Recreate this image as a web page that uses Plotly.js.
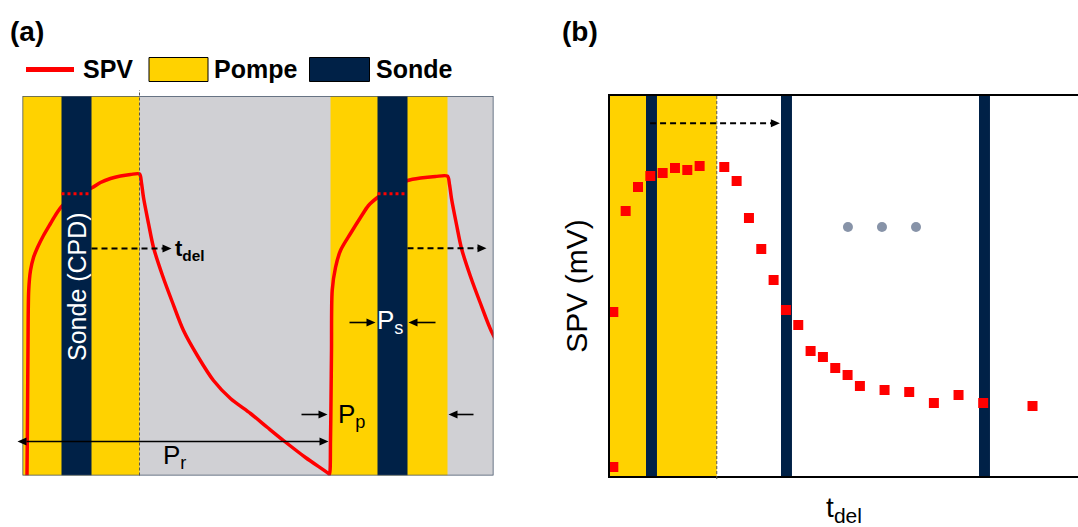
<!DOCTYPE html>
<html>
<head>
<meta charset="utf-8">
<script src="https://cdn.plot.ly/plotly-3.0.1.min.js"></script>
<style>html,body{margin:0;padding:0;background:#fff;}#chart{width:1078px;height:527px;}</style>
</head>
<body>
<div id="chart"></div>
<script>
// ---------- DATA ----------
// Panel (a): time axis (arbitrary units), SPV transient (arbitrary units)
const pumpA = [[0, 117], [308, 425]];          // pump-on intervals
const probeA = [[39, 69], [355, 385]];         // probe (CPD) intervals
const probeLevelA = 281.7;                     // SPV level sampled by probe
const spvTimeA = [4.5,5,5.5,6.2,8,11,15,21,28,34,40,48,58,70,78,88,98,108,117,
  119,121,126,131,140,150,161,176,191,208,228,245,261,283,306,
  307,308,308.5,309,309.7,313,318,328,338,346,355,364,374,385,398,413,425,
  427,429,434,439,448,458,469,484];
const spvValA = [0,60,130,185,205,218,228,240,252,262,270,276,282,288,293,297,299.5,301,301.5,
  292.5,278,252,228,200,173,145,118,95,77,62,48,35,18,2,
  1,35,75,125,185,208,225,242,258,270,278,284,290,295,297.5,299,299.3,
  291,277,251,227,199,172,144,117];

// Panel (b): delay time index vs measured SPV
const pumpB = [[-0.27, 8.39]];
const probeB = [[2.65, 3.54], [13.60, 14.49], [29.66, 30.55]];
const tdel = [0,0,1,2,3,4,5,6,7,9,10,11,12,13,14,15,16,17,18,19,20,22,24,26,28,30,34];
const spvB = [164,9,265,289,300,303,308,306,310,309,295,258,227,196,166,151,125,119,108,101,90,86,84,73,81,73,70];
const dotsT = [19.03, 21.79, 24.55];
const dotsV = [249, 249, 249];

// ---------- STYLE / GEOMETRY ----------
const W = 1078, H = 527;
const px = x => x / W, py = y => 1 - y / H;
const FONT = 'Liberation Sans, Arial, sans-serif';
const YEL = '#FFD200', NAVY = '#002147', RED = '#FF0000', GREY = '#D0D0D4';

const A_X = [0, 471], A_Y = [0, 379.5];
const B_X = [-0.27, 37.69], B_Y = [0, 380];
const A_DOM = {l:22.5, r:493.5, t:96, b:475.5};
const B_DOM = {l:610, r:1078, t:96, b:476};
// map data -> pixel (same linear mapping as the axes)
const aXp = x => A_DOM.l + (x - A_X[0]) * (A_DOM.r - A_DOM.l) / (A_X[1] - A_X[0]);
const aYp = y => A_DOM.b - (y - A_Y[0]) * (A_DOM.b - A_DOM.t) / (A_Y[1] - A_Y[0]);
const bXp = x => B_DOM.l + (x - B_X[0]) * (B_DOM.r - B_DOM.l) / (B_X[1] - B_X[0]);
const bYp = y => B_DOM.b - (y - B_Y[0]) * (B_DOM.b - B_DOM.t) / (B_Y[1] - B_Y[0]);

const shapes = [];
const ann = [];

// arrow built from shapes (pixel coordinates -> paper)
function arrow(x0, y0, x1, y1, o) {
  o = o || {};
  const L = o.len || 9, w = o.half || 4, lw = o.width || 1.6;
  const d = Math.hypot(x1 - x0, y1 - y0), ux = (x1 - x0) / d, uy = (y1 - y0) / d;
  const nx = -uy, ny = ux;
  const head = (tx, ty, sx, sy) => {
    const bx = tx - L * sx, by = ty - L * sy;
    shapes.push({type:'path', xref:'paper', yref:'paper', layer:'above',
      path:`M${px(tx)},${py(ty)} L${px(bx + w*nx)},${py(by + w*ny)} L${px(bx - w*nx)},${py(by - w*ny)} Z`,
      fillcolor:'#000', line:{width:0}});
    return [bx, by];
  };
  const e = head(x1, y1, ux, uy);
  let s = [x0, y0];
  if (o.both) s = head(x0, y0, -ux, -uy);
  shapes.push({type:'line', xref:'paper', yref:'paper', layer:'above',
    x0:px(s[0]), y0:py(s[1]), x1:px(e[0] + 1*ux), y1:py(e[1] + 1*uy),
    line:{color:'#000', width:lw, dash:o.dash || 'solid'}});
}

// Panel (a) background and bands
shapes.push({type:'rect', xref:'x', yref:'y', x0:A_X[0], x1:A_X[1], y0:A_Y[0], y1:A_Y[1], fillcolor:GREY, line:{width:0}, layer:'below'});
pumpA.forEach(p => shapes.push({type:'rect', xref:'x', yref:'y', x0:p[0], x1:p[1], y0:A_Y[0], y1:A_Y[1], fillcolor:YEL, line:{width:0}, layer:'below'}));
probeA.forEach(p => {
  shapes.push({type:'rect', xref:'x', yref:'y', x0:p[0], x1:p[1], y0:A_Y[0], y1:A_Y[1], fillcolor:NAVY, line:{width:0}, layer:'above'});
  shapes.push({type:'line', xref:'x', yref:'y', x0:p[0], x1:p[1], y0:probeLevelA, y1:probeLevelA, line:{color:RED, width:3, dash:'dot'}, layer:'above'});
});
shapes.push({type:'rect', xref:'x', yref:'y', x0:A_X[0], x1:A_X[1], y0:A_Y[0], y1:A_Y[1], line:{color:'#44546A', width:1.5}, layer:'above'});
shapes.push({type:'line', xref:'paper', yref:'paper', x0:px(aXp(pumpA[0][1])), x1:px(aXp(pumpA[0][1])), y0:py(475.5), y1:py(90), line:{color:'#555', width:1, dash:'3px,2px'}, layer:'above'});

// dashed t_del arrows in (a)
arrow(aXp(probeA[0][1]), aYp(227), aXp(149), aYp(227), {dash:'6px,4px', width:2});
arrow(aXp(probeA[1][1]), aYp(227.3), aXp(464), aYp(227.3), {dash:'6px,4px', width:2});
// width arrows Ps, Pp and period Pr
arrow(aXp(327), aYp(153), aXp(probeA[1][0] - 2), aYp(153));
arrow(aXp(413), aYp(153), aXp(probeA[1][1] + 1), aYp(153));
arrow(aXp(279), aYp(61), aXp(pumpA[1][0] - 3), aYp(61));
arrow(aXp(451), aYp(61), aXp(pumpA[1][1] + 1), aYp(61));
arrow(aXp(-5), aYp(34), aXp(pumpA[1][0] - 2), aYp(34), {both:true});

ann.push({xref:'x', yref:'y', x:54, y:189, text:'Sonde (CPD)', textangle:-90, showarrow:false, font:{family:FONT, size:25, color:'#fff'}});
ann.push({xref:'x', yref:'y', x:150, y:226, xanchor:'left', yanchor:'middle', text:'<b>t<sub>del</sub></b>', showarrow:false, font:{family:FONT, size:22, color:'#000'}});
ann.push({xref:'x', yref:'y', x:352, y:154, xanchor:'left', yanchor:'middle', text:'P<sub>s</sub>', showarrow:false, font:{family:FONT, size:26, color:'#fff'}});
ann.push({xref:'x', yref:'y', x:313, y:60, xanchor:'left', yanchor:'middle', text:'P<sub>p</sub>', showarrow:false, font:{family:FONT, size:26, color:'#000'}});
ann.push({xref:'x', yref:'y', x:138, y:19, xanchor:'left', yanchor:'middle', text:'P<sub>r</sub>', showarrow:false, font:{family:FONT, size:26, color:'#000'}});

// Panel (b) shapes
pumpB.forEach(p => shapes.push({type:'rect', xref:'x2', yref:'y2', x0:p[0], x1:p[1], y0:B_Y[0], y1:B_Y[1], fillcolor:YEL, line:{width:0}, layer:'below'}));
probeB.forEach(p => shapes.push({type:'rect', xref:'x2', yref:'y2', x0:p[0], x1:p[1], y0:B_Y[0], y1:B_Y[1], fillcolor:NAVY, line:{width:0}, layer:'below'}));
shapes.push({type:'line', xref:'paper', yref:'paper', x0:px(bXp(pumpB[0][1])), x1:px(bXp(pumpB[0][1])), y0:py(479), y1:py(96), line:{color:'#555', width:1, dash:'3px,2px'}, layer:'above'});
arrow(bXp(2.98), bYp(352.7), bXp(13.51), bYp(352.7), {dash:'6px,4px', width:2});

// Legend (a)
shapes.push({type:'line', xref:'paper', yref:'paper', x0:px(26), x1:px(74), y0:py(69.5), y1:py(69.5), line:{color:RED, width:5}});
shapes.push({type:'rect', xref:'paper', yref:'paper', x0:px(149), x1:px(208), y0:py(81.5), y1:py(57.5), fillcolor:YEL, line:{color:'#000', width:1}});
shapes.push({type:'rect', xref:'paper', yref:'paper', x0:px(309.5), x1:px(369.5), y0:py(81.5), y1:py(57.5), fillcolor:NAVY, line:{color:'#000', width:1}});
[['SPV', 81], ['Pompe', 212], ['Sonde', 374]].forEach(l => ann.push({xref:'paper', yref:'paper', x:px(l[1]), y:py(69), xanchor:'left', yanchor:'middle', text:'<b>'+l[0]+'</b>', showarrow:false, font:{family:FONT, size:25, color:'#000'}}));
ann.push({xref:'paper', yref:'paper', x:px(8), y:py(31), xanchor:'left', yanchor:'middle', text:'<b>(a)</b>', showarrow:false, font:{family:FONT, size:28, color:'#000'}});
ann.push({xref:'paper', yref:'paper', x:px(560), y:py(31), xanchor:'left', yanchor:'middle', text:'<b>(b)</b>', showarrow:false, font:{family:FONT, size:28, color:'#000'}});

const traces = [
  {type:'scatter', mode:'lines', x:spvTimeA, y:spvValA, xaxis:'x', yaxis:'y', line:{color:RED, width:3.5, shape:'spline', smoothing:0.8}, hoverinfo:'skip'},
  {type:'scatter', mode:'markers', x:tdel, y:spvB, xaxis:'x2', yaxis:'y2', marker:{symbol:'square', size:10, color:RED}, cliponaxis:false},
  {type:'scatter', mode:'markers', x:dotsT, y:dotsV, xaxis:'x2', yaxis:'y2', marker:{symbol:'circle', size:10, color:'#8793A8'}}
];

const hidden = {showgrid:false, zeroline:false, showticklabels:false, ticks:'', showline:false, fixedrange:true};
const layout = {
  width:W, height:H, margin:{l:0, r:0, t:0, b:0}, paper_bgcolor:'#fff', plot_bgcolor:'rgba(0,0,0,0)',
  showlegend:false, font:{family:FONT, color:'#000'},
  xaxis: Object.assign({domain:[px(A_DOM.l), px(A_DOM.r)], range:A_X, anchor:'y'}, hidden),
  yaxis: Object.assign({domain:[py(A_DOM.b), py(A_DOM.t)], range:A_Y, anchor:'x'}, hidden),
  xaxis2: {domain:[px(B_DOM.l), px(B_DOM.r)], range:B_X, anchor:'y2', showgrid:false, zeroline:false, showticklabels:false, ticks:'',
    showline:true, mirror:true, linecolor:'#000', linewidth:2, fixedrange:true,
    title:{text:"t<sub><span style='font-size:21px'>del</span></sub>", font:{family:FONT, size:28, color:'#000'}, standoff:23}},
  yaxis2: {domain:[py(B_DOM.b), py(B_DOM.t)], range:B_Y, anchor:'x2', showgrid:false, zeroline:false, showticklabels:false, ticks:'',
    showline:true, linecolor:'#000', linewidth:2, fixedrange:true,
    title:{text:'SPV (mV)', font:{family:FONT, size:30, color:'#000'}, standoff:12}},
  shapes:shapes, annotations:ann
};
Plotly.newPlot('chart', traces, layout, {displayModeBar:false});
</script>
</body>
</html>
